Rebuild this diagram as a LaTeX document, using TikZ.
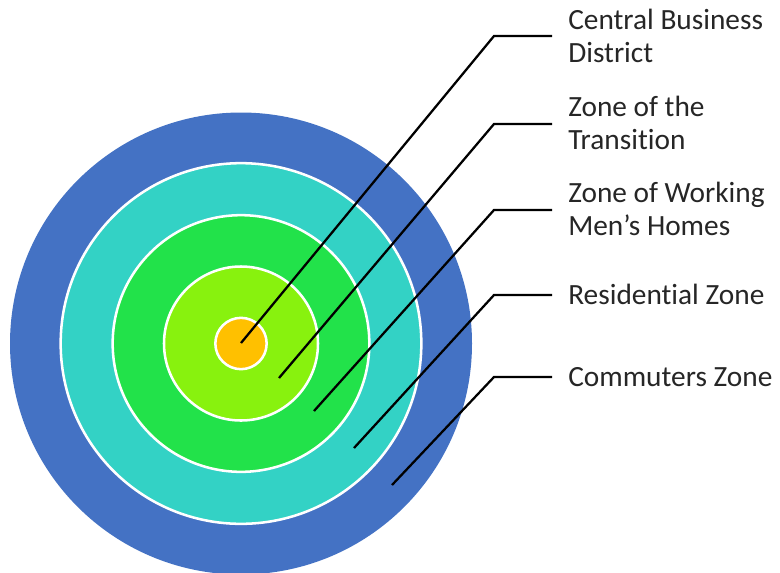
\documentclass[tikz,border=0pt]{standalone}
\usepackage{fontspec}
\setmainfont[Ligatures=CommonOff]{Carlito}
\definecolor{zoneA}{HTML}{4472C4}
\definecolor{zoneB}{HTML}{33D2C5}
\definecolor{zoneC}{HTML}{22E24A}
\definecolor{zoneD}{HTML}{88F20E}
\definecolor{zoneE}{HTML}{FFC000}
\definecolor{labeltext}{HTML}{262626}
\tikzset{
  ring/.style={circle,draw=white,line width=1.9pt,inner sep=0pt,minimum size=#1},
  leader/.style={draw=black,line width=1.7pt},
  zonelabel/.style={anchor=base west,inner sep=0pt,text=labeltext,font=\fontsize{22pt}{24.4pt}\selectfont,align=left}
}
\begin{document}
\begin{tikzpicture}[x=0.75pt,y=-0.75pt]
\path[use as bounding box] (0,0) rectangle (780,572);
\clip (0,0) rectangle (780,572);
\fill[white] (0,0) rectangle (780,572);
\node[ring=346.5pt,fill=zoneA,draw=none] (outer) at (241,343.5) {};
\node[ring=270.5pt,fill=zoneB] (second) at (241,343.5) {};
\node[ring=192.5pt,fill=zoneC] (third) at (241,343.5) {};
\node[ring=115.5pt,fill=zoneD] (fourth) at (241,343.5) {};
\node[ring=38.5pt,fill=zoneE] (core) at (241,343.5) {};
\coordinate (c1) at (241,343);
\coordinate (c2) at (279,378);
\coordinate (c3) at (314,411);
\coordinate (c4) at (354,448);
\coordinate (c5) at (392,485);
\coordinate (k1) at (494,36);
\coordinate (k2) at (494,124);
\coordinate (k3) at (494,210);
\coordinate (k4) at (494,295);
\coordinate (k5) at (494,377);
\coordinate (e1) at (552,36);
\coordinate (e2) at (552,124);
\coordinate (e3) at (552,210);
\coordinate (e4) at (552,295);
\coordinate (e5) at (552,377);
\draw[leader] (c1) -- (k1) -- (e1);
\draw[leader] (c2) -- (k2) -- (e2);
\draw[leader] (c3) -- (k3) -- (e3);
\draw[leader] (c4) -- (k4) -- (e4);
\draw[leader] (c5) -- (k5) -- (e5);
\node[zonelabel] (t1) at (568,62) {Central Business\\District};
\node[zonelabel] (t2) at (568,149) {Zone of the\\Transition};
\node[zonelabel] (t3) at (568,235) {Zone of Working\\Men’s Homes};
\node[zonelabel] (t4) at (568,304) {Residential Zone};
\node[zonelabel] (t5) at (568,386) {Commuters Zone};
\end{tikzpicture}
\end{document}
